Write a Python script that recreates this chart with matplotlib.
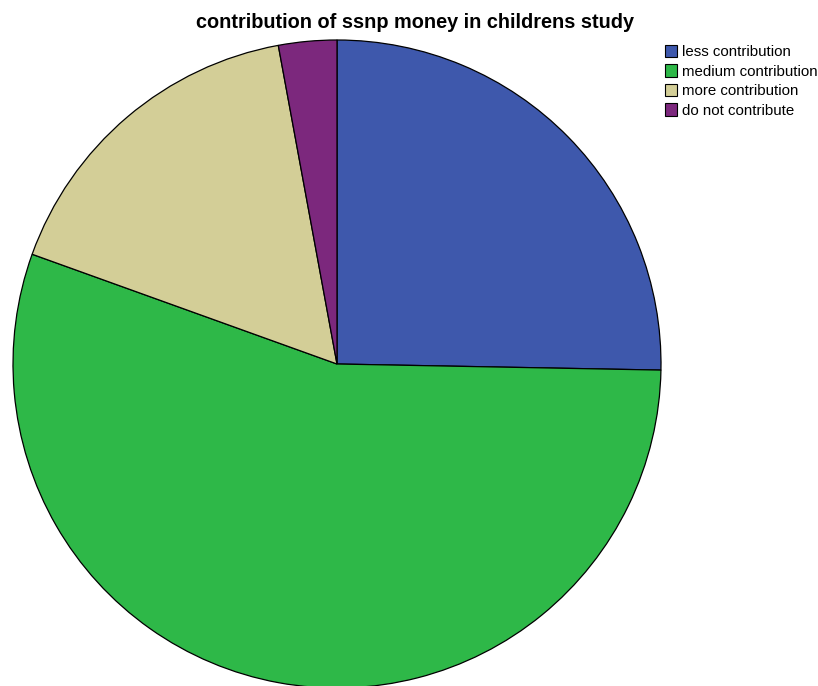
import matplotlib
matplotlib.use("Agg")
import matplotlib.pyplot as plt
from matplotlib.patches import Patch

plt.rcParams['font.family'] = ['Liberation Sans', 'DejaVu Sans']

# data (percent of respondents)
categories = ['less contribution', 'medium contribution', 'more contribution', 'do not contribute']
shares = [25.3, 55.2, 16.6, 2.9]
colors = ['#3E58AC', '#2EB848', '#D3CE97', '#7C287D']

W, H = 818, 686
fig = plt.figure(figsize=(W / 100, H / 100), dpi=100)

# pie centre at (337, 364) px, radius 324 px
cx, cy, r = 337, 364, 324
ax = fig.add_axes([(cx - r) / W, (H - cy - r) / H, 2 * r / W, 2 * r / H])
wedges, _ = ax.pie(shares, colors=colors, startangle=90, counterclock=False,
                   radius=1.0, wedgeprops=dict(edgecolor='black', linewidth=0.9))
for w in wedges:
    w.set_clip_on(False)
ax.set_xlim(-1, 1)
ax.set_ylim(-1, 1)
ax.set_aspect('equal')
ax.axis('off')

fig.text(415 / W, 1 - 23 / H, 'contribution of ssnp money in childrens study',
         ha='center', va='center', fontsize=14.3, fontweight='bold')

handles = [Patch(facecolor=c, edgecolor='black', linewidth=0.8) for c in colors]
fig.legend(handles, categories, loc='upper left', bbox_to_anchor=(665 / W, 1 - 45 / H),
           frameon=False, fontsize=10.8, handlelength=0.8, handleheight=0.9,
           handletextpad=0.33, labelspacing=0.34, borderpad=0, borderaxespad=0)

fig.savefig('out.png', dpi=100)
